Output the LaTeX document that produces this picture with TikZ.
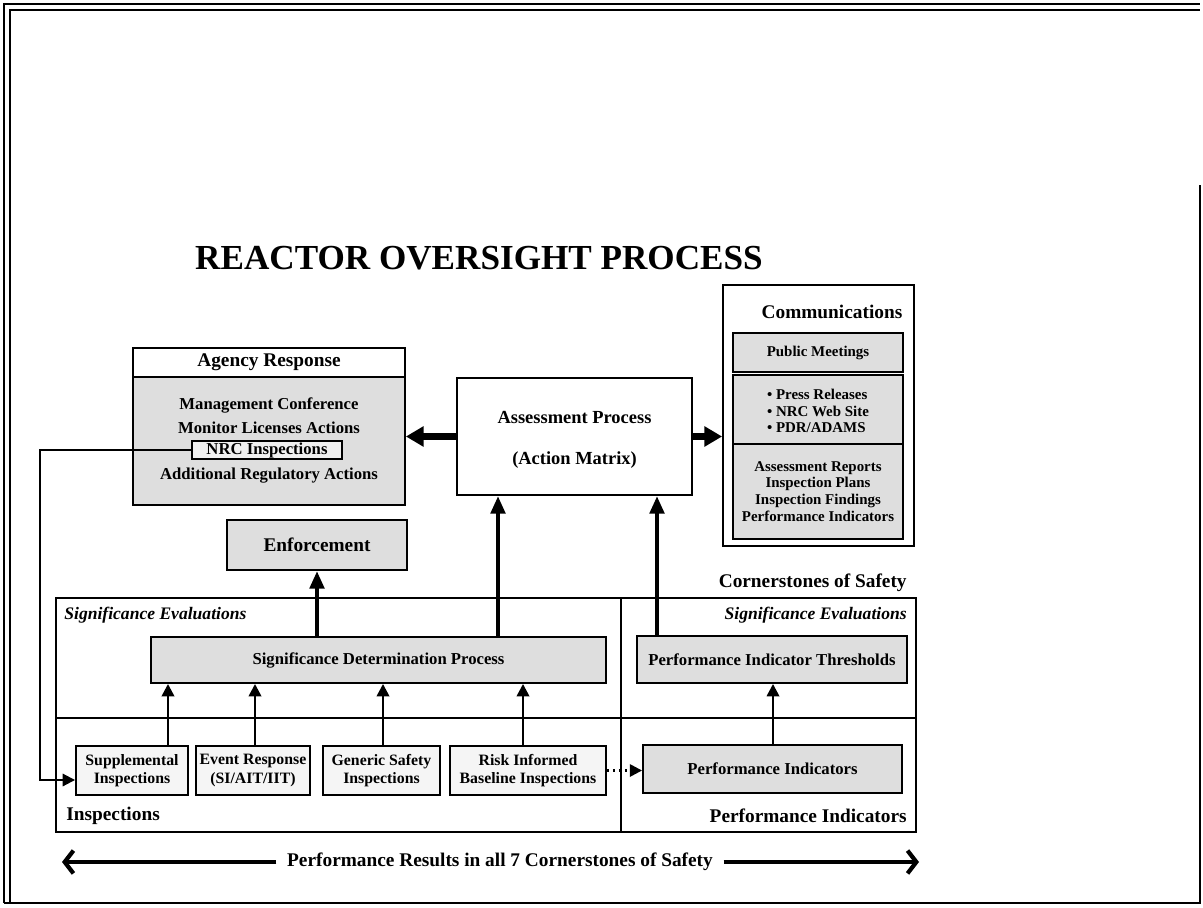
\documentclass[tikz,border=0pt]{standalone}
\usepackage{fontspec}
\setmainfont{Liberation Serif}
\usetikzlibrary{arrows.meta}
\begin{document}
\begin{tikzpicture}[x=0.02cm,y=-0.02cm]
	\tikzstyle{every node}+=[inner sep=0pt]
	\tikzstyle{box}=[draw,line width=1.1pt,align=center]
	\tikzstyle{graybox}=[box,fill=black!13]
	\tikzstyle{lightbox}=[box,fill=black!4]
	\tikzstyle{txt}=[font=\bfseries\fontsize{9.5}{11}\selectfont,align=center]
	\tikzstyle{smalltxt}=[font=\bfseries\fontsize{8.5}{9.6}\selectfont,align=center]
	\tikzstyle{insptxt}=[font=\bfseries\fontsize{9}{10.5}\selectfont,align=center]
	\tikzstyle{headtxt}=[font=\bfseries\fontsize{11}{13}\selectfont]
	\tikzstyle{evaltxt}=[font=\bfseries\itshape\fontsize{10}{12}\selectfont]
	\tikzstyle{fatarrow}=[line width=4pt,-{Triangle[length=10pt,width=11pt]}]
	\tikzstyle{uparrow}=[line width=2.6pt,-{Triangle[length=10pt,width=8pt]}]
	\tikzstyle{thinarrow}=[line width=1.4pt,-{Triangle[length=7pt,width=7pt]}]
	\tikzstyle{resarrow}=[line width=2.4pt,-{Straight Barb[length=5pt,width=13pt]}]
	\useasboundingbox (0,0) rectangle (1203,908);
	\draw [black,line width=1.3pt] (4,903) -- (4,4) -- (1200,4);
	\draw [black,line width=0.8pt] (10,903) -- (10,10) -- (1200,10);
	\draw [black,line width=1pt] (4,903) -- (1200,903) -- (1200,185);
	\node [font=\bfseries\fontsize{20}{24}\selectfont] (title) at (479,258) {REACTOR OVERSIGHT PROCESS};
	\node [box,headtxt,minimum width=5.44cm,minimum height=0.58cm] (agencyhead) at (269,362.5) {Agency Response};
	\node [graybox,minimum width=5.44cm,minimum height=2.56cm] (agency) at (269,441) {};
	\node [txt] (mgmt) at (269,405) {Management Conference};
	\node [txt] (monitor) at (269,428) {Monitor Licenses Actions};
	\node [box,txt,fill=black!6,minimum width=3cm,minimum height=0.36cm] (nrc) at (267,450) {NRC Inspections};
	\node [txt] (addl) at (269,476) {Additional Regulatory Actions};
	\node [box,minimum width=4.7cm,minimum height=2.34cm] (assess) at (574.5,436.5) {};
	\node [headtxt,font=\bfseries\fontsize{10.5}{12}\selectfont] (assesstitle) at (574.5,418) {Assessment Process};
	\node [headtxt,font=\bfseries\fontsize{10.5}{12}\selectfont] (matrix) at (574.5,460) {(Action Matrix)};
	\node [box,minimum width=3.82cm,minimum height=5.22cm] (comm) at (818.5,415.5) {};
	\node [headtxt] (commtitle) at (832,312) {Communications};
	\node [graybox,smalltxt,minimum width=3.4cm,minimum height=0.78cm] (pubmeet) at (818,352.5) {Public Meetings};
	\node [graybox,smalltxt,align=left,minimum width=3.4cm,minimum height=1.44cm] (media) at (818,411) {\textbullet\ Press Releases\\\textbullet\ NRC Web Site\\\textbullet\ PDR/ADAMS};
	\node [graybox,smalltxt,minimum width=3.4cm,minimum height=1.9cm] (reports) at (818,491.5) {Assessment Reports\\Inspection Plans\\Inspection Findings\\Performance Indicators};
	\node [graybox,headtxt,minimum width=3.6cm,minimum height=1cm] (enforce) at (317,545) {Enforcement};
	\node [box,minimum width=17.2cm,minimum height=4.68cm] (corner) at (486,715) {};
	\coordinate (split) at (621,718);
	\draw [black,line width=1.1pt] (split |- corner.north) -- (split |- corner.south);
	\draw [black,line width=1.1pt] (corner.west |- split) -- (corner.east |- split);
	\node [headtxt,anchor=east] (cornertitle) at (907,583) {Cornerstones of Safety};
	\node [evaltxt,anchor=west] (evalleft) at (64,615) {Significance Evaluations};
	\node [evaltxt,anchor=east] (evalright) at (907,615) {Significance Evaluations};
	\node [graybox,txt,minimum width=9.1cm,minimum height=0.92cm] (sdp) at (378.5,660) {Significance Determination Process};
	\node [graybox,txt,minimum width=5.4cm,minimum height=0.94cm] (pithresh) at (772,659.5) {Performance Indicator Thresholds};
	\node [lightbox,insptxt,minimum width=2.24cm,minimum height=0.98cm] (supp) at (132,770.5) {Supplemental\\Inspections};
	\node [lightbox,insptxt,minimum width=2.28cm,minimum height=0.98cm] (event) at (253,770.5) {Event Response\\(SI/AIT/IIT)};
	\node [lightbox,insptxt,minimum width=2.34cm,minimum height=0.98cm] (generic) at (381.5,770.5) {Generic Safety\\Inspections};
	\node [lightbox,insptxt,minimum width=3.12cm,minimum height=0.98cm] (risk) at (528,770.5) {Risk Informed\\Baseline Inspections};
	\node [graybox,txt,minimum width=5.18cm,minimum height=0.96cm] (pibox) at (772.5,769) {Performance Indicators};
	\node [headtxt,anchor=west] (insplabel) at (66,816) {Inspections};
	\node [headtxt,anchor=east] (pilabel) at (907,816) {Performance Indicators};
	\draw [fatarrow] (assess.west) -- (assess.west -| agency.east);
	\draw [fatarrow] (assess.east) -- (assess.east -| comm.west);
	\draw [uparrow] (sdp.north -| enforce.south) -- (enforce.south);
	\draw [uparrow] (sdp.north -| 498,0) -- (assess.south -| 498,0);
	\draw [uparrow] (pithresh.north -| 657,0) -- (assess.south -| 657,0);
	\draw [thinarrow] (supp.north -| 168,0) -- (sdp.south -| 168,0);
	\draw [thinarrow] (event.north -| 255,0) -- (sdp.south -| 255,0);
	\draw [thinarrow] (generic.north -| 383,0) -- (sdp.south -| 383,0);
	\draw [thinarrow] (risk.north -| 523,0) -- (sdp.south -| 523,0);
	\draw [thinarrow] (pibox.north -| 773,0) -- (pithresh.south -| 773,0);
	\draw [thinarrow,dotted] (risk.east) -- (risk.east -| pibox.west);
	\coordinate (loopcorner) at (40,780);
	\draw [thinarrow,line width=1.1pt] (nrc.west) -| (loopcorner) -- (loopcorner -| supp.west);
	\node [font=\bfseries\fontsize{11}{13}\selectfont,fill=white,inner xsep=6pt,inner ysep=2pt] (results) at (500,862) {Performance Results in all 7 Cornerstones of Safety};
	\coordinate (resleft) at (62,862);
	\coordinate (resright) at (919,862);
	\draw [resarrow] (results.west) -- (resleft);
	\draw [resarrow] (results.east) -- (resright);
\end{tikzpicture}
\end{document}
